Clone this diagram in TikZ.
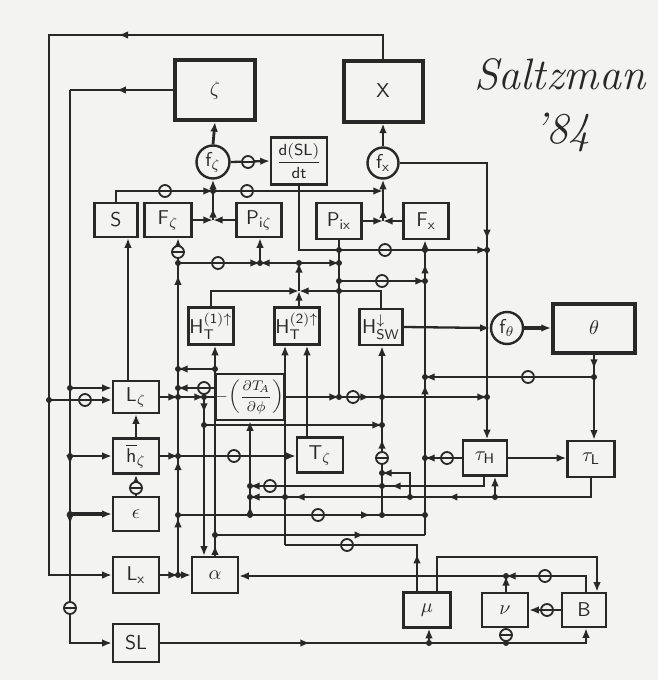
\documentclass[tikz,border=0pt]{standalone}
\usepackage{amsmath}
\usetikzlibrary{arrows.meta,decorations.markings}
\definecolor{paper}{RGB}{243,243,241}
\definecolor{ink}{RGB}{40,40,40}

\begin{document}
\begin{tikzpicture}[x=0.5pt, y=-0.5pt, line width=1.15pt, color=ink,
    >={Latex[length=4.8pt,width=3.8pt]},
    blk/.style={draw, line width=1.2pt, fill=paper, inner sep=0pt, font=\sffamily,
                minimum width=23pt, minimum height=17.5pt},
    bigblk/.style={blk, line width=2pt},
    fcirc/.style={circle, draw, line width=1.2pt, fill=paper, inner sep=0pt, font=\sffamily},
    neg/.style={circle, draw, line width=0.9pt, fill=paper, inner sep=0pt, minimum size=6pt,
                path picture={\draw[line width=0.9pt] (path picture bounding box.west)
                -- (path picture bounding box.east);}},
    midarrow/.style={postaction={decorate,
                decoration={markings, mark=at position #1 with {\arrow{>}}}}}
  ]

  % paper
  \fill[paper] (0,0) rectangle (658,680);

  % --- state blocks
  \node[bigblk, minimum width=40pt, minimum height=30pt] (zeta) at (215,90) {$\zeta$};
  \node[bigblk, minimum width=39.5pt, minimum height=30.5pt] (chi) at (383,91) {X};
  \node[bigblk, minimum width=41pt, minimum height=24.5pt] (theta) at (594,328) {$\theta$};

  % --- summing circles
  \node[fcirc, minimum size=16.5pt] (fz) at (213,162) {f$_\zeta$};
  \node[fcirc, minimum size=15.5pt] (fx) at (383,163) {f$_\mathsf{x}$};
  \node[fcirc, minimum size=16pt] (ft) at (507,328) {f$_\theta$};
  \node[blk, minimum width=28pt, minimum height=23.5pt, font=\sffamily\footnotesize] (dSL) at (299,161)
    {$\dfrac{\mathsf{d(SL)}}{\mathsf{dt}}$};

  % --- upper row
  \node[blk, minimum width=21.5pt, minimum height=17pt] (S) at (116,220) {S};
  \node[blk, minimum width=23.5pt, minimum height=17pt] (Fz) at (168,220) {F$_\zeta$};
  \node[blk, minimum width=22.5pt, minimum height=17pt] (Piz) at (259,220) {P$_{\mathsf{i}\zeta}$};
  \node[blk, minimum width=22.5pt, minimum height=18pt] (Pix) at (339,221) {P$_\mathsf{ix}$};
  \node[blk, minimum width=22.5pt, minimum height=18pt] (Fx) at (426,221) {F$_\mathsf{x}$};

  % --- heat fluxes
  \node[blk, minimum width=22.5pt, minimum height=18.5pt] (HT1) at (211,326)
    {H$_\mathsf{T}^{\mathsf{(1)}\uparrow}$};
  \node[blk, minimum width=22.5pt, minimum height=18.5pt] (HT2) at (297,326)
    {H$_\mathsf{T}^{\mathsf{(2)}\uparrow}$};
  \node[blk, minimum width=21.5pt, minimum height=18pt] (HSW) at (381,327)
    {H$_\mathsf{SW}^{\downarrow}$};

  % --- left column and middle
  \node[blk, minimum height=16pt] (Lz) at (136,397) {L$_\zeta$};
  \node[blk, minimum width=29pt, minimum height=23pt, font=\scriptsize] (dT) at (250,397)
    {$-\mkern-3mu\left(\dfrac{\partial T_{\!A}}{\partial\phi}\right)$};
  \node[blk] (Tz) at (320,455) {T$_\zeta$};
  \node[blk] (hz) at (136,456) {$\overline{\mathsf{h}}_\zeta$};
  \node[blk, minimum height=17pt] (eps) at (136,514) {$\epsilon$};
  \node[blk, minimum height=18pt] (Lx) at (136,575) {L$_\mathsf{x}$};
  \node[blk, minimum height=19pt] (SL) at (136,643) {SL};
  \node[blk, minimum height=18pt] (alpha) at (215,575) {$\alpha$};

  % --- right part
  \node[blk, minimum width=22pt] (tauH) at (485,458) {$\tau_\mathsf{H}$};
  \node[blk, minimum width=23.5pt, minimum height=18pt] (tauL) at (591,459) {$\tau_\mathsf{L}$};
  \node[blk, minimum width=23.5pt] (mu) at (427,610) {$\mu$};
  \node[blk, minimum height=17pt] (nu) at (505,610) {$\nu$};
  \node[blk, minimum width=22pt, minimum height=17pt] (B) at (584,610) {B};

  % --- signature
  \node[font=\fontsize{22}{24}\selectfont\itshape] (sig) at (560,74) {Saltzman};
  \node[font=\fontsize{22}{24}\selectfont\itshape] (sigyr) at (562,132) {'84};

  % --- bus coordinates
  \coordinate (cTL) at (49,35);
  \coordinate (cZL) at (70,90);
  \coordinate (cLS) at (128,0);
  \coordinate (jA) at (213,191);
  \coordinate (jB) at (383,191);
  \coordinate (jC) at (213,220);
  \coordinate (jD) at (383,221);
  \coordinate (jE) at (487,163);
  \coordinate (jG) at (487,250);
  \coordinate (jH) at (178,263);
  \coordinate (jI) at (260,263);
  \coordinate (jJ) at (299,263);
  \coordinate (jK) at (339,263);
  \coordinate (jX) at (299,291);
  \coordinate (jN) at (339,281);
  \coordinate (jO) at (425,281);
  \coordinate (jP) at (594,377);
  \coordinate (jQ) at (425,377);
  \coordinate (jR) at (178,397);
  \coordinate (jS) at (204,397);
  \coordinate (jT) at (339,397);
  \coordinate (jV) at (487,397);
  \coordinate (jW) at (178,388);
  \coordinate (jY1) at (215,369);
  \coordinate (jY2) at (178,369);
  \coordinate (jS2) at (204,425);
  \coordinate (jU2) at (382,425);
  \coordinate (jZ) at (178,456);
  \coordinate (jE1) at (178,515);
  \coordinate (jE2) at (250,515);
  \coordinate (jE3) at (425,515);
  \coordinate (jU3) at (382,515);
  \coordinate (jLx) at (178,575);
  \coordinate (jAb) at (215,535);
  \coordinate (jFb) at (425,535);
  \coordinate (cTz) at (307,0);
  \coordinate (cTH1) at (484,0);
  \coordinate (jD1) at (250,486);
  \coordinate (jD2) at (250,497);
  \coordinate (jT2) at (495,497);
  \coordinate (jT3) at (410,497);
  \coordinate (jT4) at (382,473);
  \coordinate (jTH) at (425,458);
  \coordinate (cMu1) at (417,0);
  \coordinate (jM1) at (417,545);
  \coordinate (jM2) at (285,545);
  \coordinate (cMu2) at (437,557);
  \coordinate (cB1) at (597,557);
  \coordinate (cB2) at (586,576);
  \coordinate (jN1) at (506,576);
  \coordinate (jS1) at (429,0);
  \coordinate (jS3) at (506,0);

  % --- outer feedbacks on the left
  \draw[->, midarrow=0.3] (chi.north) |- (cTL) |- (Lx.west);
  \draw[->] (cTL |- 0,400) -- (Lz.west |- 0,400);
  \draw[midarrow=0.55] (zeta.west) -- (cZL);
  \draw[->, midarrow=0.63, midarrow=0.73] (cZL) |- (SL.west);
  \draw[->] (cZL |- 0,388) -- (Lz.west |- 0,388);
  \draw[->] (cZL |- hz.west) -- (hz.west);
  \draw[->, line width=2pt] (cZL |- eps.west) -- (eps.west);

  % --- into zeta and X
  \draw[->, line width=1.4pt] (fz.north) -- (zeta.south);
  \draw[->, line width=1.4pt] (fx.north) -- (chi.south);
  \draw[->] (fz.east) -- (dSL.west);
  \draw[->] (S.north) |- (jA);
  \draw[->] (jA) -- (jB);
  \draw[->] (Fz.east) -- (jC);
  \draw[->] (Piz.west) -- (jC);
  \draw[->, midarrow=0.3] (jC) -- (fz.south);
  \draw[->] (Pix.east) -- (jD);
  \draw[->] (Fx.west) -- (jD);
  \draw[->, midarrow=0.3] (jD) -- (fx.south);

  % --- heat transport to tau_H
  \draw[->, midarrow=0.45] (fx.east) -| (tauH.north -| jE);
  \draw[->] (dSL.south) |- (jG);

  % --- F_zeta bus and P_i lines
  \draw[->, midarrow=0.17, midarrow=0.34, midarrow=0.89] (jLx) -- (Fz.south -| jLx);
  \draw[->] (jH) -- (jI);
  \draw[->] (jI) -- (jI |- Piz.south);
  \draw[->] (jJ) -- (jI);
  \draw[->] (jJ) -- (jK);
  \draw[->] (HT1.north) |- (jX);
  \draw[->] (jX |- HT2.north) -- (jX);
  \draw[->] (HSW.north) |- (jX);
  \draw[->] (jX) -- (jJ);
  \draw (Pix.south) -- (jT);
  \draw[->] (jN) -- (jO);

  % --- F_x bus
  \draw[->, midarrow=0.51, midarrow=0.92] (jFb) -- (Fx.south -| jFb);

  % --- theta
  \draw[->, midarrow=0.17] (theta.south) -- (theta.south |- tauL.north);
  \draw[->] (jP) -- (jQ);
  \draw[->] (HSW.east) -- (ft.west);
  \draw[->, line width=2.2pt] (ft.east) -- (theta.west);

  % --- L_zeta, dT/dphi, alpha
  \draw[->] (Lz.north -| cLS) -- (S.south -| cLS);
  \draw[->] (Lz.east) -- (jR);
  \draw[->] (jR) -- (jS);
  \draw (jS) -- (dT.west);
  \draw[->] (dT.east) -- (jT);
  \draw[->, midarrow=0.21] (jT) -- (jV);
  \draw[->] (dT.west |- jW) -- (jW);
  \draw[->, midarrow=0.05] (alpha.north) -- (alpha.north |- HT1.south);
  \draw[->] (jY1) -- (jY2);
  \draw[midarrow=0.71] (jAb) -- (jFb);
  \draw[->, midarrow=0.1] (jS) -- (alpha.north -| jS);
  \draw[->] (jS2) -- (jU2);

  % --- H_SW bus
  \draw[->, midarrow=0.45] (jU3) -- (HSW.south -| jU3);
  \draw[->] (Tz.north -| cTz) -- (HT2.south -| cTz);

  % --- h_zeta, epsilon, L_x
  \draw[->] (hz.east) -- (jZ);
  \draw[->] (jZ) -- (Tz.west |- jZ);
  \draw[->] (hz.north) -- (Lz.south);
  \draw[->] (eps.north) -- (hz.south);
  \draw[->] (Lx.east) -- (jLx);
  \draw[->] (jLx) -- (alpha.west);
  \draw[midarrow=0.78] (jE1) -- (jE3);
  \draw[->, midarrow=0.1] (jE2) -- (dT.south);

  % --- tau_H, tau_L returns
  \draw[->, midarrow=0.42] (tauH.south -| cTH1) |- (jD1);
  \draw[->, midarrow=0.45, midarrow=0.875] (tauL.south) |- (jD2);
  \draw[->] (jT2) -- (tauH.south -| jT2);
  \draw[->] (jT3) |- (jT4);
  \draw[->] (tauH.east) -- (tauL.west |- tauH.east);
  \draw[->] (tauH.west) -- (jTH);

  % --- mu, nu, B
  \draw[midarrow=0.21] (mu.north -| cMu1) -- (jM1) -- (jM2);
  \draw[->] (jM2) -- (HT2.south -| jM2);
  \draw[->] (mu.north -| cMu2) |- (cB1) -- (B.north -| cB1);
  \draw[->] (B.north -| cB2) |- (jN1);
  \draw[->] (nu.north -| jN1) -- (jN1);
  \draw[->] (jN1) -- (alpha.east |- jN1);
  \draw[->] (B.west) -- (nu.east);
  \draw[->, midarrow=0.34] (SL.east) -| (B.south -| cB2);
  \draw[->] (SL.east -| jS1) -- (mu.south -| jS1);
  \draw (SL.east -| jS3) -- (nu.south -| jS3);

  % --- negative couplings
  \node[neg] (m1) at (85,400) {};
  \node[neg] (m2) at (70,608) {};
  \node[neg] (m3) at (248,162) {};
  \node[neg] (m4) at (165,191) {};
  \node[neg] (m5) at (247,191) {};
  \node[neg] (m6) at (178,252) {};
  \node[neg] (m7) at (218,263) {};
  \node[neg] (m8) at (385,250) {};
  \node[neg] (m9) at (382,281) {};
  \node[neg] (m10) at (528,377) {};
  \node[neg] (m11) at (204,388) {};
  \node[neg] (m12) at (353,397) {};
  \node[neg] (m13) at (234,456) {};
  \node[neg] (m14) at (136,488) {};
  \node[neg] (m15) at (318,515) {};
  \node[neg] (m16) at (382,458) {};
  \node[neg] (m17) at (447,458) {};
  \node[neg] (m18) at (270,486) {};
  \node[neg] (m19) at (347,545) {};
  \node[neg] (m20) at (545,576) {};
  \node[neg] (m21) at (547,610) {};
  \node[neg] (m22) at (506,635) {};

  % --- junction dots
  \foreach \p in {(49,400),(70,388),(70,456),(70,514),(213,191),(339,250),(425,250),
                  (487,250),(178,263),(260,263),(299,263),(339,263),(339,281),(339,291),
                  (425,281),(594,377),(425,377),(178,388),(178,369),(215,369),(178,397),
                  (204,397),(339,397),(382,397),(487,397),(204,425),(382,425),(178,456),
                  (425,458),(382,473),(382,486),(250,486),(250,497),(285,497),(410,497),
                  (495,497),(178,515),(250,515),(382,515),(425,515),(215,535),(178,575),
                  (506,576),(429,643),(506,643)}
    \fill \p circle (1.5pt);
\end{tikzpicture}
\end{document}
